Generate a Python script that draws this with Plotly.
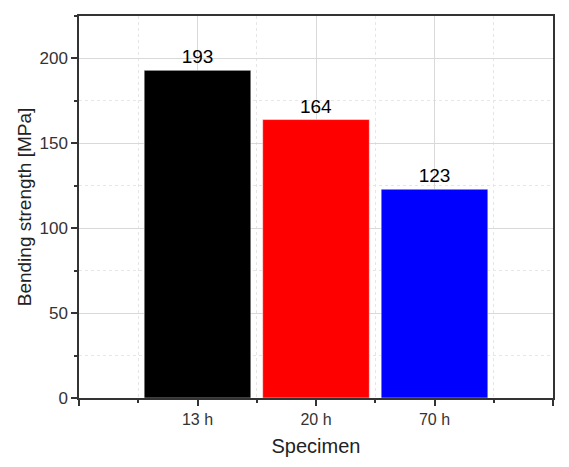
import plotly.graph_objects as go

categories = ["13 h", "20 h", "70 h"]
positions = [1, 2, 3]
values = [193, 164, 123]
colors = ["#000000", "#ff0000", "#0000ff"]

FONT = "Liberation Sans, Arial"

fig = go.Figure()
fig.add_trace(go.Bar(
    x=positions, y=values, width=0.9,
    marker=dict(color=colors, line=dict(color="#ffffff", width=0.5)),
    text=[str(v) for v in values], textposition="outside",
    textfont=dict(size=19, color="#000000", family=FONT),
    cliponaxis=False,
))

axis_common = dict(
    showline=True, linecolor="#333333", linewidth=1.5, mirror=True,
    ticks="outside", tickcolor="#333333", tickwidth=1.5, ticklen=6,
    showgrid=True, gridcolor="#d9d9d9", gridwidth=1, zeroline=False,
    automargin=False,
)

fig.update_layout(
    width=561, height=459,
    margin=dict(l=71, r=16, t=8, b=69),
    paper_bgcolor="white", plot_bgcolor="white",
    showlegend=False,
    bargap=0.1,
    xaxis=dict(
        **axis_common,
        range=[0, 4],
        tickvals=[0, 1, 2, 3, 4], ticktext=["", categories[0], categories[1], categories[2], ""],
        tickfont=dict(size=16, color="#333333", family=FONT),
        minor=dict(tick0=0.5, dtick=1, ticks="outside", ticklen=3, tickcolor="#333333",
                   showgrid=True, gridcolor="#e6e6e6", griddash="dot", gridwidth=1),
        title=dict(text="Specimen", font=dict(size=20, color="#222222", family=FONT), standoff=12),
    ),
    yaxis=dict(
        **axis_common,
        range=[0, 225],
        tick0=0, dtick=50,
        tickfont=dict(size=17, color="#333333", family=FONT),
        minor=dict(tick0=0, dtick=25, ticks="outside", ticklen=3, tickcolor="#333333",
                   showgrid=True, gridcolor="#e6e6e6", griddash="dot", gridwidth=1),
        title=dict(text="Bending strength [MPa]", font=dict(size=19, color="#222222", family=FONT), standoff=3),
    ),
)

fig.write_html("out.html")
